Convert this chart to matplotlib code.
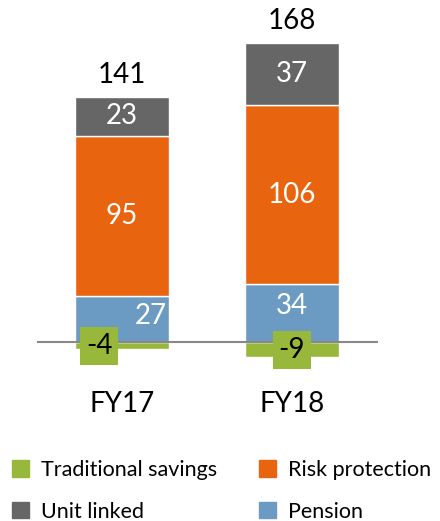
import numpy as np
import matplotlib.pyplot as plt
from matplotlib.patches import Patch

plt.rcParams['font.family'] = ['Lato', 'DejaVu Sans']

years = ['FY17', 'FY18']
traditional = [-4, -9]
pension = [27, 34]
risk = [95, 106]
unit_linked = [23, 37]
totals = [141, 168]

c_green = '#97b83a'
c_blue = '#6b9bc3'
c_orange = '#e9640f'
c_gray = '#666666'

W, H = 440, 521
fig = plt.figure(figsize=(W / 100, H / 100), dpi=100)
# axes placed in pixel terms: x 10..378, y 20..370
ax = fig.add_axes([10 / W, (H - 370) / H, 368 / W, 350 / H])
ax.set_xlim(-0.659, 1.506)
ax.set_ylim(-16.6, 190.5)
ax.axis('off')

x = np.arange(len(years))
bw = 0.55
kw = dict(width=bw, edgecolor='white', linewidth=1)
ax.bar(x, traditional, color=c_green, **kw)
ax.bar(x, pension, color=c_blue, **kw)
b1 = np.array(pension)
ax.bar(x, risk, bottom=b1, color=c_orange, **kw)
b2 = b1 + np.array(risk)
ax.bar(x, unit_linked, bottom=b2, color=c_gray, **kw)
top = b2 + np.array(unit_linked)

ax.axhline(0, xmin=28 / 368, color='#888888', lw=1.5, zorder=3)

fs = 20
for i in range(len(years)):
    # pension label (FY17 is pushed right in the original)
    dx = 0.17 if i == 0 else 0
    ax.text(x[i] + dx, pension[i] / 2 + (2 if i == 0 else 4), str(pension[i]),
            ha='center', va='center', color='white', fontsize=fs)
    ax.text(x[i], b1[i] + risk[i] / 2, str(risk[i]), ha='center', va='center',
            color='white', fontsize=fs)
    ax.text(x[i], b2[i] + unit_linked[i] / 2, str(unit_linked[i]), ha='center',
            va='center', color='white', fontsize=fs)
    ax.text(x[i], top[i] + 13, str(totals[i]), ha='center', va='center',
            color='black', fontsize=fs)
    ax.text(x[i], -37, years[i], ha='center', va='center', color='black',
            fontsize=fs, clip_on=False)
    # negative value in a green box
    dx = -0.135 if i == 0 else 0
    ax.text(x[i] + dx, -2.5 - i * 2.3, str(traditional[i]), ha='center', va='center',
            color='black', fontsize=fs, zorder=4,
            bbox=dict(boxstyle='square,pad=0.22', fc=c_green, ec='none'))

col1 = [Patch(color=c_green, label='Traditional savings'),
        Patch(color=c_gray, label='Unit linked')]
col2 = [Patch(color=c_orange, label='Risk protection'),
        Patch(color=c_blue, label='Pension')]
leg_kw = dict(loc='upper left', frameon=False, fontsize=15.5, handlelength=0.8,
              handleheight=0.8, handletextpad=0.55, labelspacing=1.0,
              borderpad=0, borderaxespad=0)
fig.legend(handles=col1, bbox_to_anchor=(12 / W, (H - 460) / H), **leg_kw)
fig.legend(handles=col2, bbox_to_anchor=(259 / W, (H - 460) / H), **leg_kw)

fig.savefig('out.png', dpi=100)
